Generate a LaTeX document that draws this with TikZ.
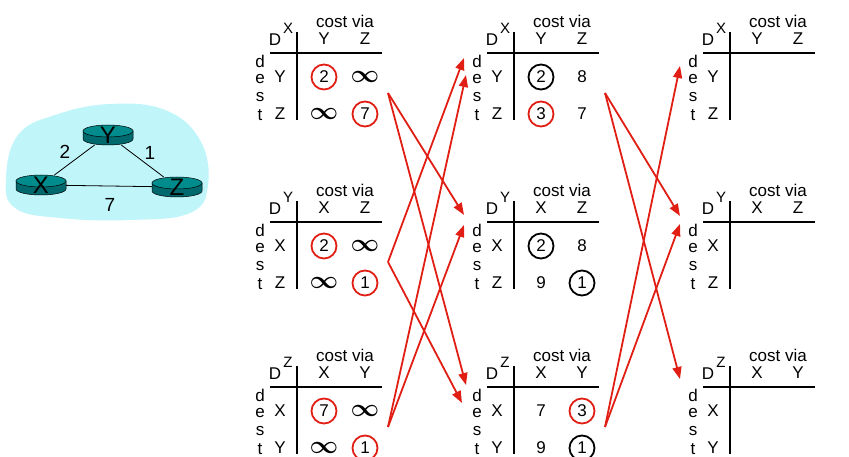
\documentclass[tikz,border=0pt]{standalone}
\usepackage{fontspec}
\setmainfont{Liberation Sans}
\usepackage{amsmath}
\usepackage{bm}
\usepackage{xcolor}
\usetikzlibrary{arrows.meta, calc, shapes.geometric}

\definecolor{dvred}{RGB}{225,30,20}
\definecolor{cloudcyan}{RGB}{192,245,250}
\definecolor{rtrtop}{RGB}{0,140,140}
\definecolor{rtrside}{RGB}{0,105,110}

% distance table: name, x, y (corner of the cross), owner, columns, rows
\newcommand{\dvtable}[8]{%
\begin{scope}[shift={(#2,#3)}]
  \draw[tblline] (-27,0) -- (85,0);
  \draw[tblline] (0,-21) -- (0,67);
  \node[tbltext] (#1-via) at (48,-32) {cost via};
  \node[tbltext] (#1-D) at (-22,-13) {D};
  \node[suptext] (#1-own) at (-9,-25) {#4};
  \node[tbltext] (#1-h1) at (27,-14) {#5};
  \node[tbltext] (#1-h2) at (68,-14) {#6};
  \foreach \ch [count=\i] in {d,e,s,t}
    \node[tbltext] (#1-dest\i) at (-37,{-10+18*\i}) {\ch};
  \node[tbltext] (#1-r1) at (-17,24) {#7};
  \node[tbltext] (#1-r2) at (-17,61) {#8};
  \coordinate (#1-11) at (27,24);
  \coordinate (#1-12) at (68,24);
  \coordinate (#1-21) at (27,61);
  \coordinate (#1-22) at (68,61);
  \coordinate (#1-out) at (91,40);
  \coordinate (#1-in) at (-50,0);
\end{scope}}

% router: name, x, y, label
\newcommand{\router}[4]{%
  \filldraw[fill=rtrside, draw=black, line width=0.5pt] (#2-25,#3) -- (#2-25,#3+8)
    arc[start angle=180, end angle=0, x radius=25, y radius=6] -- (#2+25,#3) -- cycle;
  \filldraw[fill=rtrtop, draw=black, line width=0.5pt] (#2,#3) ellipse[x radius=25, y radius=6];
  \node[rtrlabel] (#1) at (#2,#3+4) {#4};
}

\begin{document}
\begin{tikzpicture}[x=1pt, y=-1pt,
  tblline/.style={line width=2.6pt},
  tbltext/.style={font=\fontsize{17}{17}\selectfont, inner sep=0pt},
  suptext/.style={font=\fontsize{15}{15}\selectfont, inner sep=0pt},
  redc/.style={tbltext, circle, draw=dvred, line width=1.8pt, minimum size=25pt},
  blkc/.style={tbltext, circle, draw=black, line width=1.8pt, minimum size=25pt},
  inf/.style={font=\fontsize{24}{24}\selectfont, inner sep=0pt},
  upd/.style={dvred, line width=1.8pt, -{Triangle[length=12pt,width=9pt]}},
  rtrlabel/.style={ellipse, minimum width=50pt, minimum height=20pt, inner sep=0pt, font=\fontsize{24}{24}\selectfont},
  costlbl/.style={font=\fontsize{19}{19}\selectfont, inner sep=0pt}]
\useasboundingbox (0,0) rectangle (849,457);

% Network
\fill[cloudcyan] plot[smooth cycle, tension=0.7] coordinates {(6,178) (18,135) (55,115) (110,104) (165,110) (200,140) (208,185) (190,213) (130,220) (60,218) (15,208)};
\router{ry}{108}{131}{Y}
\router{rx}{41}{181}{X}
\router{rz}{177}{183}{Z}
\draw[line width=0.8pt] (ry) -- (rx);
\draw[line width=0.8pt] (ry) -- (rz);
\draw[line width=0.8pt] (rx) -- (rz);
\node[costlbl] (cxy) at (65,152) {2};
\node[costlbl] (cyz) at (150,153) {1};
\node[costlbl] (cxz) at (110,205) {7};

% Tables, step 0
\dvtable{tx1}{297}{53}{X}{Y}{Z}{Y}{Z}
\node[redc] (tx1-a) at (tx1-11) {2};
\node[inf] (tx1-b) at (tx1-12) {$\bm{\infty}$};
\node[inf] (tx1-c) at (tx1-21) {$\bm{\infty}$};
\node[redc] (tx1-d) at (tx1-22) {7};

\dvtable{ty1}{297}{222}{Y}{X}{Z}{X}{Z}
\node[redc] (ty1-a) at (ty1-11) {2};
\node[inf] (ty1-b) at (ty1-12) {$\bm{\infty}$};
\node[inf] (ty1-c) at (ty1-21) {$\bm{\infty}$};
\node[redc] (ty1-d) at (ty1-22) {1};

\dvtable{tz1}{297}{387}{Z}{X}{Y}{X}{Y}
\node[redc] (tz1-a) at (tz1-11) {7};
\node[inf] (tz1-b) at (tz1-12) {$\bm{\infty}$};
\node[inf] (tz1-c) at (tz1-21) {$\bm{\infty}$};
\node[redc] (tz1-d) at (tz1-22) {1};

% Tables, step 1
\dvtable{tx2}{514}{53}{X}{Y}{Z}{Y}{Z}
\node[blkc] (tx2-a) at (tx2-11) {2};
\node[tbltext] (tx2-b) at (tx2-12) {8};
\node[redc] (tx2-c) at (tx2-21) {3};
\node[tbltext] (tx2-d) at (tx2-22) {7};

\dvtable{ty2}{514}{222}{Y}{X}{Z}{X}{Z}
\node[blkc] (ty2-a) at (ty2-11) {2};
\node[tbltext] (ty2-b) at (ty2-12) {8};
\node[tbltext] (ty2-c) at (ty2-21) {9};
\node[blkc] (ty2-d) at (ty2-22) {1};

\dvtable{tz2}{514}{387}{Z}{X}{Y}{X}{Y}
\node[tbltext] (tz2-a) at (tz2-11) {7};
\node[redc] (tz2-b) at (tz2-12) {3};
\node[tbltext] (tz2-c) at (tz2-21) {9};
\node[blkc] (tz2-d) at (tz2-22) {1};

% Tables, step 2 (empty)
\dvtable{tx3}{730}{53}{X}{Y}{Z}{Y}{Z}
\dvtable{ty3}{730}{222}{Y}{X}{Z}{X}{Z}
\dvtable{tz3}{730}{387}{Z}{X}{Y}{X}{Y}

% Updates sent to neighbours
\draw[upd] (tx1-out) -- ($(ty2-in)+(0,-7)$);
\draw[upd] (tx1-out) -- ($(tz2-in)+(2,-2)$);
\draw[upd] (ty1-out) -- ($(tx2-in)+(0,5)$);
\draw[upd] (ty1-out) -- ($(tz2-in)+(-2,16)$);
\draw[upd] (tz1-out) -- ($(tx2-in)+(2,22)$);
\draw[upd] (tz1-out) -- ($(ty2-in)+(0,3)$);

\draw[upd] (tx2-out) -- ($(ty3-in)+(0,-6)$);
\draw[upd] (tx2-out) -- ($(tz3-in)+(0,-8)$);
\draw[upd] (tz2-out) -- ($(tx3-in)+(0,13)$);
\draw[upd] (tz2-out) -- ($(ty3-in)+(0,2)$);
\end{tikzpicture}
\end{document}
